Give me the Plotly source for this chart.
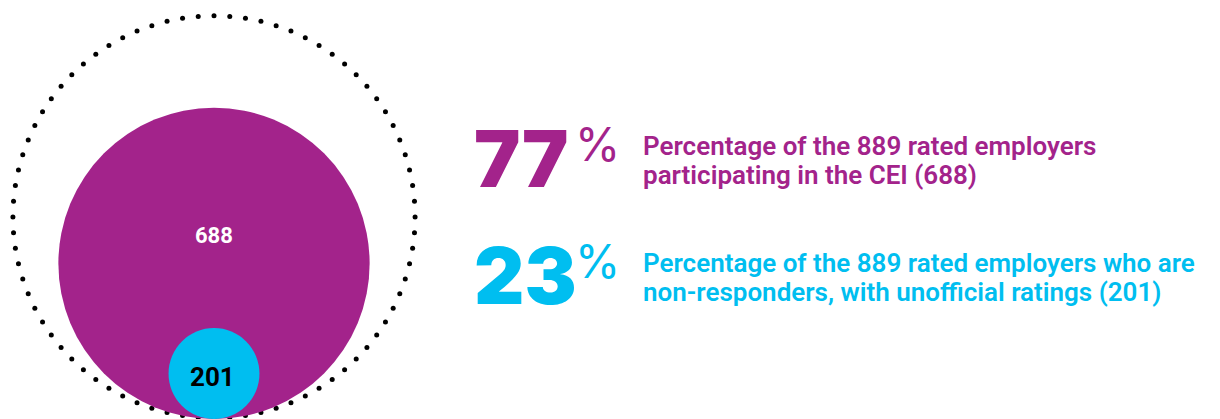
import numpy as np
import plotly.graph_objects as go

# ---- data ----
total = 889
groups = ["Participating", "Non-responders"]
counts = [688, 201]
pct_labels = ["77", "23"]
descriptions = [
    ["Percentage of the 889 rated employers", "participating in the CEI (688)"],
    ["Percentage of the 889 rated employers who are", "non-responders, with unofficial ratings (201)"],
]
colors = ["#A3238B", "#00BEF0"]
count_text_colors = ["white", "black"]

# ---- geometry (radius proportional to value, circles bottom-aligned) ----
k = 0.2262
cx = 214.0
base = 0.0
# page body has an 8px margin: size the figure to fit the window and
# map the axes so that data units equal window pixels
OFF = 8
W, H = 1220, 419

fig = go.Figure()

# dotted outer circle for the total
R = total * k
n_dots = 80
theta = np.linspace(0, 2 * np.pi, n_dots, endpoint=False) + np.pi / 2
fig.add_trace(go.Scatter(
    x=cx + R * np.cos(theta), y=base + 1 + R + R * np.sin(theta),
    mode="markers", marker=dict(size=5, color="black"),
    hoverinfo="skip", showlegend=False,
))

shapes = []
annotations = []
for i, (c, col) in enumerate(zip(counts, colors)):
    r = c * k
    shapes.append(dict(type="circle", xref="x", yref="y",
                       x0=cx - r, x1=cx + r, y0=base, y1=base + 2 * r,
                       fillcolor=col, line=dict(width=0), layer="above"))

# count labels
annotations.append(dict(x=cx - 0.5, y=base + 2 * counts[0] * k * 0.59, text=f"<b>{counts[0]}</b>",
                        showarrow=False, font=dict(family="Roboto", size=22, color=count_text_colors[0]),
                        xanchor="center", yanchor="middle"))
annotations.append(dict(x=cx - 1.5, y=base + counts[1] * k * 0.93, text=f"<b>{counts[1]}</b>",
                        showarrow=False, font=dict(family="Roboto", size=26, color=count_text_colors[1]),
                        xanchor="center", yanchor="middle"))

# right-hand text blocks (screen-y centres converted to data y)
num_centre = [158, 275]
line_centres = [[146, 175], [263, 292]]
for i in range(2):
    yc = H - num_centre[i]
    annotations.append(dict(x=472, y=yc, text=pct_labels[i], showarrow=False,
                            xanchor="left", yanchor="middle",
                            font=dict(family="Inter", size=78, color=colors[i], weight=900)))
    annotations.append(dict(x=573, y=yc + 14, text="%", showarrow=False,
                            xanchor="left", yanchor="middle",
                            font=dict(family="Inter", size=46, color=colors[i], weight=400)))
    for j, line in enumerate(descriptions[i]):
        annotations.append(dict(x=641, y=H - line_centres[i][j], text=line, showarrow=False,
                                xanchor="left", yanchor="middle", align="left",
                                font=dict(family="Roboto", size=26, color=colors[i], weight=600)))

fig.update_layout(
    width=W - OFF, height=H - OFF,
    margin=dict(l=0, r=0, t=0, b=0),
    paper_bgcolor="white", plot_bgcolor="white",
    xaxis=dict(range=[OFF, W], visible=False, fixedrange=True),
    yaxis=dict(range=[0, H - OFF], visible=False, fixedrange=True),
    shapes=shapes, annotations=annotations,
    showlegend=False,
)
fig.write_html("out.html")
